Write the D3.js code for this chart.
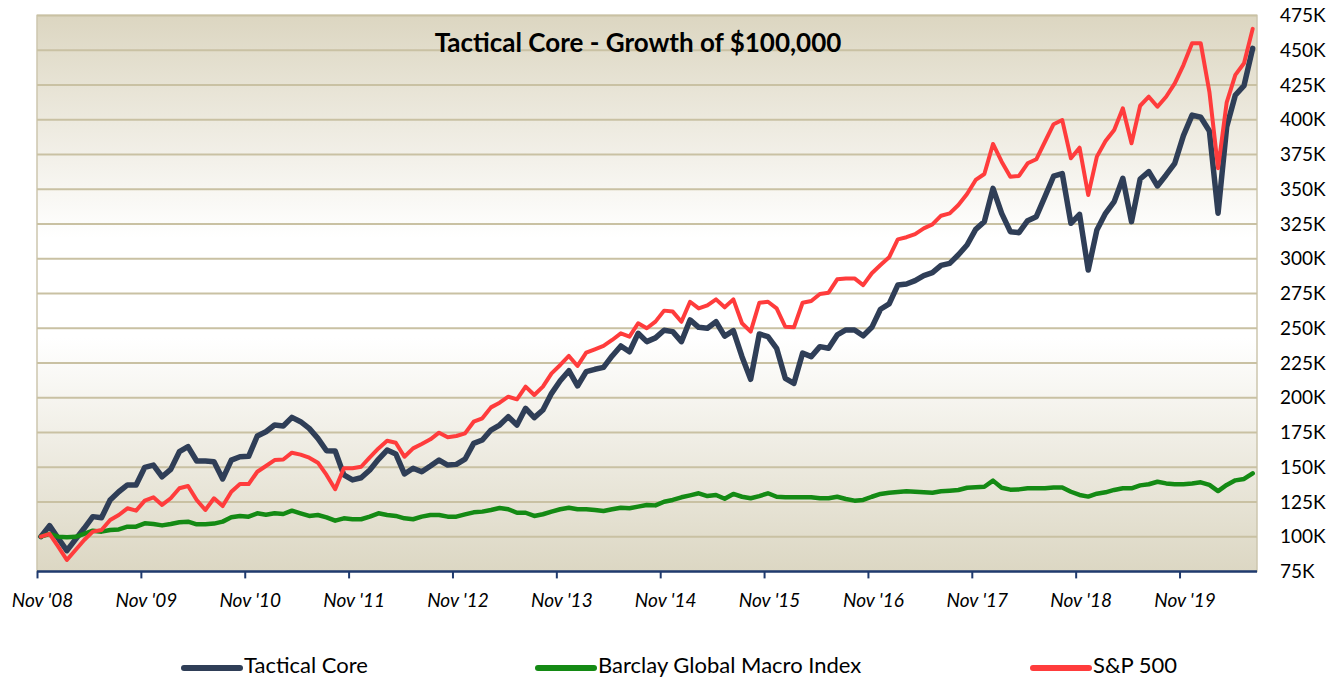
<!DOCTYPE html>
<html>
<head>
<meta charset="utf-8">
<script src="https://cdn.jsdelivr.net/npm/d3@7"></script>
<style>
  html, body { margin: 0; padding: 0; background: #fff; }
  svg { display: block; font-family: Lato, "Open Sans", sans-serif; }
</style>
</head>
<body>
<div id="chart"></div>
<script>
// month index 0 = first month (Nov '08), values in $K
const tickLabels = ["Nov '08","Nov '09","Nov '10","Nov '11","Nov '12","Nov '13",
                    "Nov '14","Nov '15","Nov '16","Nov '17","Nov '18","Nov '19"];

const tacticalCore = [
  100,107.9,98.8,89.9,98.1,106,114.4,113.6,126.4,132.3,137.2,137.2,149.9,151.5,143.1,148.4,
  161.1,164.7,154.4,154.4,153.9,141.5,155.1,157.5,157.8,172.4,175.5,180.3,179.6,185.8,182.7,
  177.9,170.7,161.8,161.6,144.4,140.8,142.4,148,155.6,162.3,159.5,145.1,149.2,146.7,150.8,
  155.1,151.5,152,155.7,167.1,169.5,176.7,180.3,186.3,180.3,192.3,185.6,191.1,203.1,212.2,
  219.4,208.4,218.7,220.4,221.8,230,237.2,233,246.3,240.3,243,248.5,247.5,240.3,255.9,250.6,
  249.9,254.6,244.3,248.2,229.5,213.2,245.8,243.9,235.5,213.9,210.3,232,229.5,236.7,235.5,
  245.1,248.7,248.7,244.5,250.6,263.6,267.4,281,281.8,284.2,287.8,289.9,295.2,296.6,302.8,
  309.8,321.1,326.6,350.6,332.6,319.4,318.7,327.3,330.2,344.6,359.3,361.2,325.4,331.9,291.8,
  320.6,332.6,341,357.8,326.6,357.3,362.6,352.3,360.2,368.6,388.5,403.3,401.7,391.8,332.6,
  394.9,417.7,424.4,451.3
];

const barclayMacro = [
  100,102,100,99.5,99.9,102,104.3,103.6,104.8,105.2,107.2,107.2,109.6,109.1,108.1,109.1,
  110.3,110.8,108.9,108.9,109.4,110.8,113.9,114.9,114.4,116.8,115.8,116.8,116.3,118.7,116.8,
  114.9,115.6,113.9,111.5,113.2,112.5,112.5,114.4,116.8,115.6,114.9,113.2,112.5,114.4,115.6,
  115.6,114.4,114.4,116,117.5,118,119.2,120.6,119.7,117.2,117.2,114.9,116.1,118,119.7,
  120.8,119.7,119.7,119.2,118.5,119.7,120.8,120.4,121.6,122.8,122.5,125.1,126.4,128.3,129.7,
  131.2,129.2,130,127.3,130.7,128.7,127.6,129.2,131.2,128.7,128.3,128.3,128.3,128.3,127.6,
  127.6,128.7,127.1,125.9,126.4,128.7,130.7,131.6,132.1,132.6,132.3,131.9,131.6,132.6,133.1,
  133.6,135.2,135.5,135.9,140.3,135.2,133.8,134,134.8,134.8,134.8,135.4,135.3,132.3,130,
  128.8,130.9,131.9,133.6,134.8,134.8,136.9,137.7,139.5,138.3,137.7,137.7,138.3,139.1,137.2,
  132.8,137.2,140.5,141.5,145.6
];

const sp500 = [
  100,102,92.8,83.2,90.4,97.6,103.6,104.8,112,115.6,120.4,118.7,125.9,128.3,122.8,127.6,
  134.8,136.4,126.4,119.2,127.6,122,132.3,137.9,137.8,146.7,150.8,155.1,155.5,160.4,159,
  156.8,153.2,144.4,134.1,149.2,149.2,150.3,157.1,163.5,169,167.6,157.5,163.5,166.6,170,
  174.8,171.5,172.4,174.3,182.7,185.1,193,196.4,200.7,198.8,207.9,201.9,207.9,217.5,223.5,
  230,222.8,232.4,234.8,237.2,241.5,246.3,243.9,253.5,249.9,254.7,262.6,261.9,254.6,269,264.2,
  266.4,270.7,265,270.7,253.5,247.5,268.3,269,264.2,251,250.6,268.3,269.5,274.6,275.5,
  285.1,285.8,285.8,281,289.5,295.4,301,313.9,315.4,317.7,321.8,324.7,330.9,332.6,338.6,
  346.5,356.6,360.9,382.5,369.8,359,359.5,368.6,371.5,384.1,396.7,399.7,372.2,379.8,345.8,
  373.4,384.6,392.6,408.2,383,410,416.5,409.3,416.5,426.1,439.3,454.9,454.9,420,365,
  412.5,432.2,440.6,465.3
];

const yTicks = d3.range(75, 476, 25);

const series = [
  { name: "Tactical Core", values: tacticalCore, color: "#2f3e57", width: 5.5 },
  { name: "Barclay Global Macro Index", values: barclayMacro, color: "#148a14", width: 4.5 },
  { name: "S&P 500", values: sp500, color: "#ff3c3c", width: 4 }
];

const width = 1340, height = 678;
const plot = { left: 37, right: 1257, top: 15.4, bottom: 571.4 };

const x = d3.scaleLinear().domain([-0.45, 140.5]).range([plot.left, plot.right]);
const y = d3.scaleLinear().domain([75, 475]).range([plot.bottom, plot.top]);

const svg = d3.select("#chart").append("svg")
    .attr("width", width)
    .attr("height", height);

const defs = svg.append("defs");
const grad = defs.append("linearGradient")
    .attr("id", "bg").attr("x1", 0).attr("y1", 0).attr("x2", 0).attr("y2", 1);
grad.append("stop").attr("offset", "0%").attr("stop-color", "#dcd6c1");
grad.append("stop").attr("offset", "40%").attr("stop-color", "#ffffff");
grad.append("stop").attr("offset", "58%").attr("stop-color", "#ffffff");
grad.append("stop").attr("offset", "100%").attr("stop-color", "#dcd7c3");

svg.append("rect")
    .attr("x", plot.left).attr("y", plot.top)
    .attr("width", plot.right - plot.left).attr("height", plot.bottom - plot.top)
    .attr("fill", "url(#bg)")
    .attr("stroke", "#cdc6ae").attr("stroke-width", 1.5);

// gridlines
svg.append("g")
  .selectAll("line")
  .data(yTicks.filter(d => d > 75))
  .join("line")
    .attr("x1", plot.left).attr("x2", plot.right)
    .attr("y1", d => y(d)).attr("y2", d => y(d))
    .attr("stroke", "#c9c1a3")
    .attr("stroke-width", 2);

// right value labels
svg.append("g")
  .selectAll("text")
  .data(yTicks)
  .join("text")
    .attr("x", 1280)
    .attr("y", d => y(d))
    .attr("dy", "0.35em")
    .attr("font-size", 19)
    .attr("fill", "#000")
    .text(d => d + "K");

// title (sits over the gridline)
svg.append("text")
    .attr("x", 638)
    .attr("y", 52)
    .attr("text-anchor", "middle")
    .attr("font-size", 26)
    .attr("font-weight", "bold")
    .attr("fill", "#000")
    .text("Tactical Core - Growth of $100,000");

// lines
const line = d3.line()
    .x((d, i) => x(i))
    .y(d => y(d));

svg.append("g")
  .selectAll("path")
  .data(series)
  .join("path")
    .attr("d", d => line(d.values))
    .attr("fill", "none")
    .attr("stroke", d => d.color)
    .attr("stroke-width", d => d.width)
    .attr("stroke-linejoin", "round")
    .attr("stroke-linecap", "round");

// x axis
const xAxis = d3.axisBottom(x)
    .tickValues(tickLabels.map((d, i) => -0.45 + 12 * i))
    .tickFormat((d, i) => tickLabels[i])
    .tickSize(7)
    .tickPadding(15);

const gx = svg.append("g")
    .attr("transform", `translate(0,${plot.bottom})`)
    .call(xAxis);
gx.select(".domain")
    .attr("d", `M${plot.left},0H${plot.right}`)
    .attr("stroke", "#1f3a6e")
    .attr("stroke-width", 2.5);
gx.selectAll(".tick line")
    .attr("stroke", "#1f3a6e")
    .attr("stroke-width", 2);
gx.selectAll(".tick text")
    .attr("font-size", 19)
    .attr("font-style", "italic")
    .attr("font-family", "Lato, sans-serif")
    .attr("fill", "#000")
    .attr("dx", 5);

// legend
const legendPos = [184, 538, 1033];
const legend = svg.append("g")
  .selectAll("g")
  .data(series)
  .join("g")
    .attr("transform", (d, i) => `translate(${legendPos[i]},668)`);
legend.append("line")
    .attr("x1", 0).attr("x2", 56)
    .attr("stroke", d => d.color)
    .attr("stroke-width", 6)
    .attr("stroke-linecap", "round");
legend.append("text")
    .attr("x", 60)
    .attr("y", 5)
    .attr("font-size", 22)
    .attr("fill", "#000")
    .text(d => d.name);
</script>
</body>
</html>
